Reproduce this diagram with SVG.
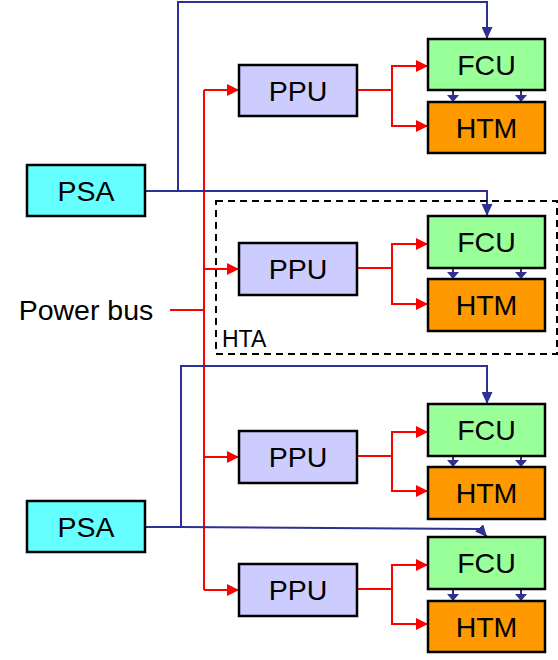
<svg xmlns="http://www.w3.org/2000/svg" width="558" height="660" viewBox="0 0 558 660">
<defs>
<style>
.box{stroke:#000;stroke-width:2.5}
.psa{fill:#66FFFF}.ppu{fill:#CCCCFF}.fcu{fill:#99FF99}.htm{fill:#FF9900}
.lbl{font-family:"Liberation Sans",Arial,sans-serif;font-size:28.5px;text-anchor:middle;fill:#000}
.red{fill:none;stroke:#FF0000;stroke-width:2}
.blue{fill:none;stroke:#2E3192;stroke-width:2}
</style>
<marker id="ar" viewBox="0 0 12 12" refX="12" refY="6" markerWidth="12" markerHeight="12" markerUnits="userSpaceOnUse" orient="auto"><path d="M0,0 L12,6 L0,12 z" fill="#FF0000"/></marker>
<marker id="ab" viewBox="0 0 12 11" refX="12" refY="5.5" markerWidth="12" markerHeight="11" markerUnits="userSpaceOnUse" orient="auto"><path d="M0,0 L12,5.5 L0,11 z" fill="#2E3192"/></marker>
<marker id="as" viewBox="0 0 7 12" refX="7" refY="6" markerWidth="7" markerHeight="12" markerUnits="userSpaceOnUse" orient="auto"><path d="M0,0 L7,6 L0,12 z" fill="#2E3192"/></marker>
</defs>
<rect width="558" height="660" fill="#fff"/>

<g id="connectors">
<path class="red" d="M170,310 H204"/>
<path class="red" d="M204,90 V590"/>
<path class="red" d="M204,90 H239" marker-end="url(#ar)"/>
<path class="red" d="M204,269 H239" marker-end="url(#ar)"/>
<path class="red" d="M204,457 H239" marker-end="url(#ar)"/>
<path class="red" d="M204,590 H239" marker-end="url(#ar)"/>
<path class="red" d="M357,90 H392 V66 H428" marker-end="url(#ar)"/>
<path class="red" d="M392,90 V126 H428" marker-end="url(#ar)"/>
<path class="red" d="M357,268 H392 V244 H428" marker-end="url(#ar)"/>
<path class="red" d="M392,268 V304 H428" marker-end="url(#ar)"/>
<path class="red" d="M357,456 H392 V432 H428" marker-end="url(#ar)"/>
<path class="red" d="M392,456 V491 H428" marker-end="url(#ar)"/>
<path class="red" d="M357,589 H392 V565 H428" marker-end="url(#ar)"/>
<path class="red" d="M392,589 V624 H428" marker-end="url(#ar)"/>
<path class="blue" d="M145,191 H178 V2 H487 V39" marker-end="url(#ab)"/>
<path class="blue" d="M178,191 H487 V216" marker-end="url(#ab)"/>
<path class="blue" d="M145,527 H181 V366 H487 V404" marker-end="url(#ab)"/>
<path class="blue" d="M181,527 L480,529 L487,537" marker-end="url(#ab)"/>
<path class="blue" d="M453,90 V102" marker-end="url(#as)"/>
<path class="blue" d="M521,90 V102" marker-end="url(#as)"/>
<path class="blue" d="M453,268 V279" marker-end="url(#as)"/>
<path class="blue" d="M521,268 V279" marker-end="url(#as)"/>
<path class="blue" d="M453,456 V467" marker-end="url(#as)"/>
<path class="blue" d="M521,456 V467" marker-end="url(#as)"/>
<path class="blue" d="M453,589 V601" marker-end="url(#as)"/>
<path class="blue" d="M521,589 V601" marker-end="url(#as)"/>
</g>

<g id="hta">
<rect x="216" y="201" width="341" height="153" fill="none" stroke="#000" stroke-width="2" stroke-dasharray="7,5"/>
<text x="222" y="347" font-family="Liberation Sans, Arial, sans-serif" font-size="23" fill="#000">HTA</text>
</g>

<g id="powerbus"><text x="86" y="320" class="lbl">Power bus</text></g>

<g id="psa1"><rect class="box psa" x="27" y="165" width="118" height="51"/><text class="lbl" x="86" y="200.5">PSA</text></g>
<g id="psa2"><rect class="box psa" x="27" y="501" width="118" height="51"/><text class="lbl" x="86" y="536.5">PSA</text></g>

<g id="ppu1"><rect class="box ppu" x="239" y="65" width="118" height="51"/><text class="lbl" x="298" y="100.5">PPU</text></g>
<g id="ppu2"><rect class="box ppu" x="239" y="243" width="118" height="52"/><text class="lbl" x="298" y="279">PPU</text></g>
<g id="ppu3"><rect class="box ppu" x="239" y="431" width="118" height="52"/><text class="lbl" x="298" y="467">PPU</text></g>
<g id="ppu4"><rect class="box ppu" x="239" y="564" width="118" height="52"/><text class="lbl" x="298" y="600">PPU</text></g>

<g id="fcu1"><rect class="box fcu" x="428" y="39" width="117" height="51"/><text class="lbl" x="486.5" y="74.5">FCU</text></g>
<g id="htm1"><rect class="box htm" x="428" y="102" width="117" height="51"/><text class="lbl" x="486.5" y="137.5">HTM</text></g>
<g id="fcu2"><rect class="box fcu" x="428" y="216" width="117" height="52"/><text class="lbl" x="486.5" y="252">FCU</text></g>
<g id="htm2"><rect class="box htm" x="428" y="279" width="117" height="52"/><text class="lbl" x="486.5" y="315">HTM</text></g>
<g id="fcu3"><rect class="box fcu" x="428" y="404" width="117" height="52"/><text class="lbl" x="486.5" y="440">FCU</text></g>
<g id="htm3"><rect class="box htm" x="428" y="467" width="117" height="52"/><text class="lbl" x="486.5" y="503">HTM</text></g>
<g id="fcu4"><rect class="box fcu" x="428" y="537" width="117" height="52"/><text class="lbl" x="486.5" y="573">FCU</text></g>
<g id="htm4"><rect class="box htm" x="428" y="601" width="117" height="51"/><text class="lbl" x="486.5" y="636.5">HTM</text></g>
</svg>
